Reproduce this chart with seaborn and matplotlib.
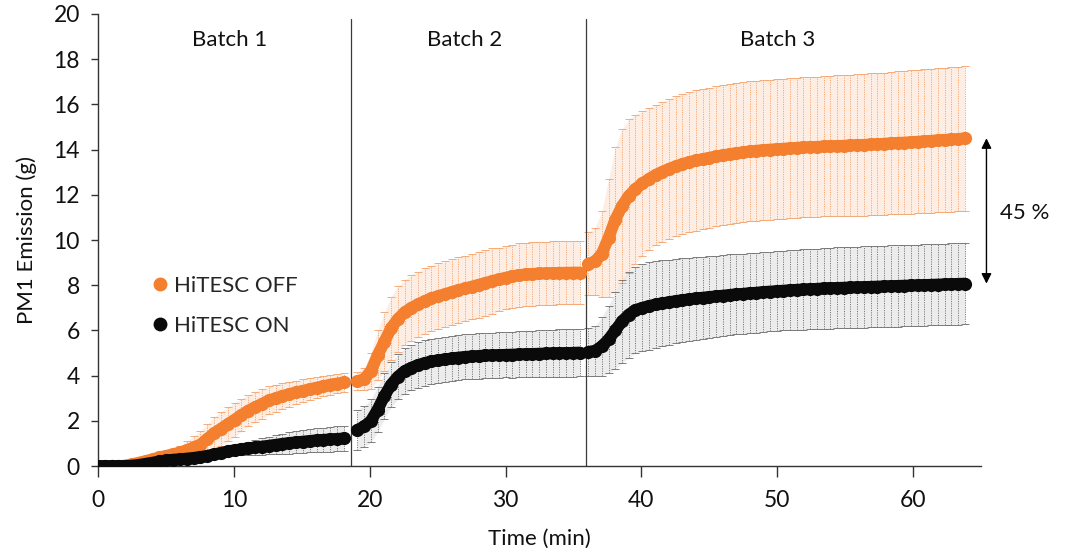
import numpy as np
import pandas as pd
import matplotlib
matplotlib.use("Agg")
import matplotlib.pyplot as plt
import seaborn as sns
from matplotlib.lines import Line2D

# ---------------- data ----------------
series_names = ["HiTESC OFF", "HiTESC ON"]
batch_labels = ["Batch 1", "Batch 2", "Batch 3"]
batch_bounds = [18.6, 35.9]
batch_ranges = [(0.0, 18.1), (19.1, 35.45), (36.1, 63.8)]

off_b1 = [0, 0, 0, 0, 0.02, 0.08, 0.15, 0.22, 0.3, 0.38, 0.45, 0.52, 0.6, 0.7, 0.82,
          0.95, 1.2, 1.45, 1.65, 1.85, 2.05, 2.25, 2.45, 2.6, 2.75, 2.9, 3.0, 3.1, 3.18,
          3.26, 3.33, 3.4, 3.47, 3.53, 3.6, 3.65, 3.7]
off_b1_err = [0, 0, 0, 0, 0.03, 0.05, 0.08, 0.12, 0.15, 0.18, 0.2, 0.25, 0.3, 0.4, 0.5,
              0.6, 0.65, 0.7, 0.75, 0.75, 0.75, 0.72, 0.7, 0.67, 0.65, 0.62, 0.6, 0.58, 0.55,
              0.52, 0.5, 0.48, 0.46, 0.45, 0.44, 0.43, 0.42]
on_b1 = [0, 0, 0, 0, 0, 0.02, 0.05, 0.1, 0.15, 0.2, 0.25, 0.28, 0.3, 0.33, 0.36,
         0.4, 0.45, 0.52, 0.58, 0.65, 0.7, 0.74, 0.78, 0.82, 0.86, 0.9, 0.94, 0.98, 1.02,
         1.05, 1.08, 1.11, 1.14, 1.16, 1.18, 1.2, 1.22]
on_b1_err = [0, 0, 0, 0, 0, 0, 0, 0, 0, 0, 0, 0, 0, 0, 0,
             0, 0.03, 0.06, 0.1, 0.15, 0.2, 0.25, 0.3, 0.33, 0.36, 0.39, 0.42, 0.45, 0.47,
             0.49, 0.5, 0.51, 0.52, 0.53, 0.54, 0.55, 0.55]

off_b2 = [3.75, 3.85, 4.2, 4.9, 5.5, 6.1, 6.5, 6.8, 7.0, 7.15, 7.3, 7.42, 7.52, 7.6,
          7.7, 7.78, 7.86, 7.94, 8.02, 8.1, 8.18, 8.26, 8.33, 8.4, 8.45, 8.48, 8.5, 8.52,
          8.53, 8.54, 8.55, 8.55, 8.56, 8.56]
off_b2_err = [0.4, 0.5, 0.8, 1.1, 1.3, 1.4, 1.45, 1.45, 1.45, 1.45, 1.45, 1.45, 1.45, 1.45,
              1.45, 1.45, 1.45, 1.45, 1.45, 1.45, 1.45, 1.4, 1.4, 1.4, 1.4, 1.4, 1.4, 1.4,
              1.4, 1.4, 1.4, 1.4, 1.4, 1.4]
on_b2 = [1.6, 1.75, 2.0, 2.5, 3.1, 3.6, 3.95, 4.2, 4.35, 4.47, 4.56, 4.63, 4.68, 4.72,
         4.76, 4.8, 4.83, 4.85, 4.87, 4.89, 4.9, 4.91, 4.92, 4.93, 4.94, 4.95, 4.96, 4.97,
         4.98, 4.99, 5.0, 5.0, 5.01, 5.02]
on_b2_err = [0.9, 0.9, 0.95, 1.0, 1.0, 1.0, 1.0, 1.0, 1.0, 1.0, 1.0, 1.0, 1.0, 1.0,
             1.0, 1.0, 1.0, 1.0, 1.0, 1.0, 1.0, 1.0, 1.0, 1.02, 1.02, 1.02, 1.03, 1.03,
             1.04, 1.04, 1.05, 1.05, 1.05, 1.05]

off_b3 = [8.95, 9.05, 9.4, 10.1, 10.9, 11.5, 11.95, 12.25, 12.5, 12.7, 12.88, 13.02, 13.15,
          13.26, 13.36, 13.45, 13.52, 13.58, 13.64, 13.7, 13.75, 13.8, 13.84, 13.88, 13.92,
          13.95, 13.98, 14.0, 14.02, 14.04, 14.06, 14.08, 14.1, 14.11, 14.12, 14.14, 14.15,
          14.16, 14.17, 14.19, 14.2, 14.21, 14.23, 14.24, 14.26, 14.28, 14.3, 14.31, 14.33,
          14.35, 14.37, 14.39, 14.41, 14.43, 14.45, 14.47, 14.5]
off_b3_err = [1.4, 1.5, 1.9, 2.6, 3.2, 3.4, 3.4, 3.3, 3.2, 3.15, 3.1, 3.1, 3.1, 3.1, 3.1,
              3.1, 3.1, 3.1, 3.1, 3.1, 3.1, 3.1, 3.1, 3.1, 3.1, 3.1, 3.1, 3.1, 3.1, 3.1,
              3.1, 3.1, 3.1, 3.1, 3.1, 3.1, 3.1, 3.12, 3.12, 3.12, 3.13, 3.13, 3.14, 3.14,
              3.15, 3.15, 3.16, 3.16, 3.17, 3.17, 3.18, 3.18, 3.19, 3.19, 3.2, 3.2, 3.2]
on_b3 = [5.05, 5.1, 5.3, 5.6, 6.0, 6.4, 6.7, 6.9, 7.0, 7.08, 7.15, 7.2, 7.25, 7.3, 7.34,
         7.38, 7.42, 7.45, 7.48, 7.51, 7.54, 7.57, 7.6, 7.62, 7.65, 7.67, 7.7, 7.72, 7.74,
         7.76, 7.78, 7.8, 7.81, 7.83, 7.84, 7.86, 7.87, 7.88, 7.89, 7.9, 7.91, 7.92, 7.93,
         7.94, 7.95, 7.96, 7.97, 7.98, 7.99, 8.0, 8.01, 8.02, 8.03, 8.04, 8.05, 8.06, 8.07]
on_b3_err = [1.05, 1.1, 1.3, 1.5, 1.7, 1.85, 1.9, 1.92, 1.93, 1.93, 1.92, 1.9, 1.88, 1.86,
             1.85, 1.84, 1.83, 1.82, 1.81, 1.8, 1.8, 1.79, 1.78, 1.78, 1.77, 1.77, 1.76,
             1.76, 1.76, 1.76, 1.77, 1.77, 1.77, 1.78, 1.78, 1.78, 1.79, 1.79, 1.79, 1.8,
             1.8, 1.8, 1.8, 1.8, 1.8, 1.8, 1.8, 1.8, 1.8, 1.8, 1.8, 1.8, 1.8, 1.8, 1.8, 1.8, 1.8]

reduction_label = "45 %"

# ---------------- build long table ----------------
rows = []
series_data = {
    "HiTESC OFF": [(off_b1, off_b1_err), (off_b2, off_b2_err), (off_b3, off_b3_err)],
    "HiTESC ON": [(on_b1, on_b1_err), (on_b2, on_b2_err), (on_b3, on_b3_err)],
}
for name, batches in series_data.items():
    for bi, ((vals, errs), (t0, t1)) in enumerate(zip(batches, batch_ranges)):
        ts = np.linspace(t0, t1, len(vals))
        for t, v, e in zip(ts, vals, errs):
            rows.append(dict(series=name, batch=bi, time=t, value=v, err=e))
df = pd.DataFrame(rows)

# ---------------- styling ----------------
sns.set_theme(style="ticks")
plt.rcParams["font.family"] = ["Lato", "DejaVu Sans"]

colors = {"HiTESC OFF": "#F47F2E", "HiTESC ON": "#0A0A0A"}
err_colors = {"HiTESC OFF": "#F5A36C", "HiTESC ON": "#707070"}
fill_colors = {"HiTESC OFF": "#FBD9C2", "HiTESC ON": "#D6D6D6"}

fig = plt.figure(figsize=(10.79, 5.53), dpi=100)
ax = fig.add_axes([0.0908, 0.1573, 0.8184, 0.8174])

# faint band tint + dense dotted error bars
for name in series_names:
    sub = df[df.series == name]
    for bi in range(3):
        sb = sub[sub.batch == bi]
        ax.fill_between(sb.time, sb.value - sb.err, sb.value + sb.err,
                        color=fill_colors[name], alpha=0.45, linewidth=0, zorder=0.5)
    eb = ax.errorbar(sub.time, sub.value, yerr=sub.err, fmt="none",
                     ecolor=err_colors[name], elinewidth=0.7, capsize=2.6,
                     capthick=0.7, zorder=1, alpha=0.9)
    for coll in eb[2]:
        coll.set_linestyle((0, (1.2, 1.2)))

# mean curves (thick markers)
for name in series_names:
    sub = df[df.series == name]
    sns.lineplot(data=sub, x="time", y="value", units="batch", estimator=None,
                 color=colors[name], linewidth=8.5, marker="o", markersize=9.5,
                 markeredgewidth=0, ax=ax, zorder=3, legend=False)

# batch separators
for b in batch_bounds:
    ax.axvline(b, ymin=0, ymax=0.99, color="#3a3a3a", linewidth=0.9, zorder=2)

for lbl, x in zip(batch_labels, [9.7, 27.0, 50.0]):
    ax.text(x, 18.85, lbl, ha="center", va="center", fontsize=16, color="#111111")

# double arrow with reduction
ax.annotate("", xy=(65.4, 14.5), xytext=(65.4, 8.07),
            xycoords="data", textcoords="data",
            arrowprops=dict(arrowstyle="<|-|>", color="black", lw=1.0,
                            mutation_scale=15, shrinkA=0, shrinkB=0),
            annotation_clip=False)
ax.text(68.2, 11.2, reduction_label, ha="center", va="center", fontsize=16,
        color="#111111", clip_on=False)

ax.set_xlim(0, 65)
ax.set_ylim(0, 20)
ax.set_xticks([0, 10, 20, 30, 40, 50, 60])
ax.set_yticks(np.arange(0, 21, 2))
ax.tick_params(axis="both", labelsize=16.5, width=1.0, color="#333333",
               labelcolor="#111111")
ax.tick_params(axis="x", length=8, pad=9)
ax.tick_params(axis="y", length=5, pad=8)
ax.set_xlabel("Time (min)", fontsize=16, color="#111111", labelpad=13)
ax.set_ylabel("PM1 Emission (g)", fontsize=16, color="#111111", labelpad=12)
for s in ["top", "right"]:
    ax.spines[s].set_visible(False)
for s in ["left", "bottom"]:
    ax.spines[s].set_color("#333333")
    ax.spines[s].set_linewidth(1.0)

handles = [Line2D([], [], linestyle="none", marker="o", markersize=10,
                  markerfacecolor=colors[n], markeredgewidth=0) for n in series_names]
ax.legend(handles, series_names, loc="center left", bbox_to_anchor=(0.035, 0.355),
          frameon=False, fontsize=16, handletextpad=0.15, labelspacing=0.9,
          handlelength=1.0)

fig.savefig("out.png", dpi=100)
